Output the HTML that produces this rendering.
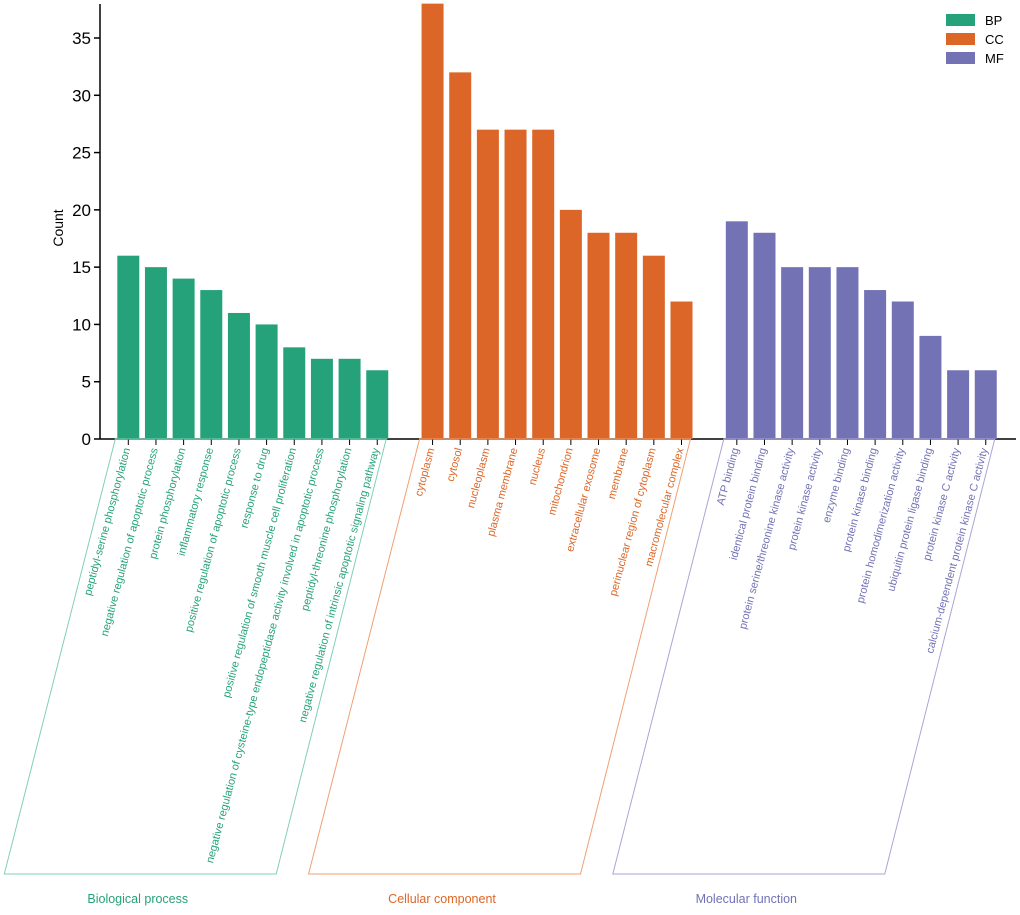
<!DOCTYPE html>
<html><head><meta charset="utf-8"><style>
body{margin:0;background:#fff;}
svg text{font-family:"Liberation Sans",sans-serif;}
</style></head><body>
<svg id="chart" width="1020" height="910" xmlns="http://www.w3.org/2000/svg"></svg>
<script>
const bpTerms=["peptidyl-serine phosphorylation","negative regulation of apoptotic process","protein phosphorylation","inflammatory response","positive regulation of apoptotic process","response to drug","positive regulation of smooth muscle cell proliferation","negative regulation of cysteine-type endopeptidase activity involved in apoptotic process","peptidyl-threonine phosphorylation","negative regulation of intrinsic apoptotic signaling pathway"];
const bpCounts=[16,15,14,13,11,10,8,7,7,6];
const ccTerms=["cytoplasm","cytosol","nucleoplasm","plasma membrane","nucleus","mitochondrion","extracellular exosome","membrane","perinuclear region of cytoplasm","macromolecular complex"];
const ccCounts=[38,32,27,27,27,20,18,18,16,12];
const mfTerms=["ATP binding","identical protein binding","protein serine/threonine kinase activity","protein kinase activity","enzyme binding","protein kinase binding","protein homodimerization activity","ubiquitin protein ligase binding","protein kinase C activity","calcium-dependent protein kinase C activity"];
const mfCounts=[19,18,15,15,15,13,12,9,6,6];
const yTicks=[0,5,10,15,20,25,30,35];
const groupNames=["Biological process","Cellular component","Molecular function"];
const legendKeys=["BP","CC","MF"];

const NS="http://www.w3.org/2000/svg";
const svg=document.getElementById('chart');
function mk(t,a,p){const e=document.createElementNS(NS,t);for(const k in a)e.setAttribute(k,a[k]);(p||svg).appendChild(e);return e;}
const y0=439, yScale=(439-38)/35;
const yPos=v=>y0-v*yScale;
const slotW=27.66, x0=128.3;
const xPos=i=>x0+i*slotW;
const groups=[
 {terms:bpTerms,counts:bpCounts,color:"#26a27b",line:"#7fd0b5",key:"bp"},
 {terms:ccTerms,counts:ccCounts,color:"#dc6627",line:"#f0a070",key:"cc"},
 {terms:mfTerms,counts:mfCounts,color:"#7272b5",line:"#a9a6d6",key:"mf"}];
let ax=mk('line',{x1:100,y1:4,x2:100,y2:439,stroke:'#000','stroke-width':1.5});

let xa=mk('line',{x1:100,y1:439,x2:1016,y2:439,stroke:'#000','stroke-width':1.5});

yTicks.forEach(v=>{
 const y=yPos(v);
 const tl=mk('line',{x1:94,y1:y,x2:100,y2:y,stroke:'#000','stroke-width':1.5});
 
 const t=mk('text',{x:91,y:y+6,'text-anchor':'end','font-size':17});
 t.textContent=v;
 
});
const yt=mk('text',{x:0,y:0,transform:'translate(63,228) rotate(-90)','text-anchor':'middle','font-size':14});
yt.textContent='Count';

groups.forEach((g,gi)=>{
 const off=gi*11;
 g.counts.forEach((c,i)=>{
  const cx=xPos(off+i);
  const r=mk('rect',{x:cx-11,y:yPos(c),width:22,height:y0-yPos(c),fill:g.color});
  
  const tk=mk('line',{x1:cx,y1:439,x2:cx,y2:445,stroke:'#000','stroke-width':1});
  
  const t=mk('text',{x:0,y:0,transform:`translate(${cx+2},449) rotate(-75)`,'text-anchor':'end','font-size':11,fill:g.color});
  t.textContent=g.terms[i];
  
 });
 const lx=xPos(off)-13, rx=xPos(off+9)+9;
 const p=mk('polygon',{points:`${lx},439 ${rx},439 ${rx-110},874 ${lx-111},874`,fill:'none',stroke:g.line,'stroke-width':1});
 
 const gt=mk('text',{x:(lx+rx)/2-113,y:903,'text-anchor':'middle','font-size':12.5,fill:g.color});
 gt.textContent=groupNames[gi];
 
 const ly=14+gi*19;
 const lr=mk('rect',{x:946,y:ly,width:29,height:12,fill:g.color});
 
 const lt=mk('text',{x:985,y:ly+11,'font-size':13});
 lt.textContent=legendKeys[gi];
 
});
</script>
</body></html>
